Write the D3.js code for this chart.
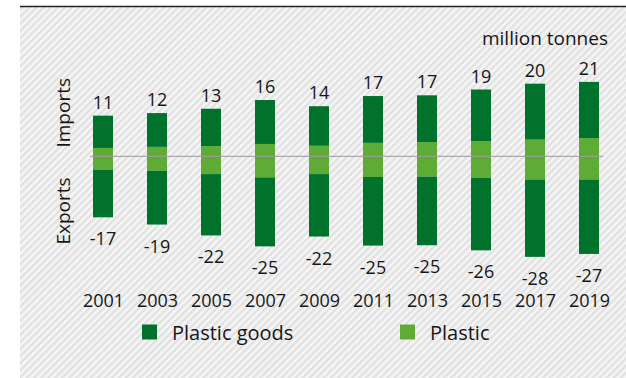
<html>
<head>
<style>
  body { margin: 0; background: #ffffff; }
  svg { display: block; }
  text { font-family: "Open Sans", "Noto Sans", sans-serif; fill: #161616; }
</style>
</head>
<body>
<script src="https://d3js.org/d3.v7.min.js"></script>
<script>
  // values in million tonnes
  const years = ["2001", "2003", "2005", "2007", "2009", "2011", "2013", "2015", "2017", "2019"];
  const goodsImports = [8.9, 9.3, 10.3, 12.1, 10.9, 12.9, 12.9, 14.2, 15.4, 15.5];
  const plasticImports = [2.3, 2.6, 2.8, 3.4, 2.9, 3.7, 3.9, 4.2, 4.6, 5.0];
  const plasticExports = [3.7, 4.0, 4.9, 5.8, 4.9, 5.7, 5.6, 5.9, 6.4, 6.4];
  const goodsExports = [13.1, 14.8, 16.9, 19.0, 17.2, 18.9, 18.9, 20.0, 21.3, 20.5];
  const importLabels = ["11", "12", "13", "16", "14", "17", "17", "19", "20", "21"];
  const exportLabels = ["-17", "-19", "-22", "-25", "-22", "-25", "-25", "-26", "-28", "-27"];
  const legendItems = ["Plastic goods", "Plastic"];

  const width = 626, height = 378;
  const darkGreen = "#00722b", lightGreen = "#5eab36";

  const svg = d3.select("body").append("svg")
      .attr("width", width)
      .attr("height", height);

  // hatched background
  const defs = svg.append("defs");
  const pat = defs.append("pattern")
      .attr("id", "hatch")
      .attr("patternUnits", "userSpaceOnUse")
      .attr("width", 5)
      .attr("height", 5)
      .attr("patternTransform", "rotate(45)");
  pat.append("rect").attr("width", 5).attr("height", 5).attr("fill", "#f5f5f5");
  pat.append("rect").attr("width", 2.4).attr("height", 5).attr("fill", "#e1e1e1");

  svg.append("rect")
      .attr("x", 20).attr("y", 7)
      .attr("width", width - 20).attr("height", height - 7)
      .attr("fill", "url(#hatch)");

  svg.append("line")
      .attr("x1", 20).attr("x2", width)
      .attr("y1", 6.5).attr("y2", 6.5)
      .attr("stroke", "#222").attr("stroke-width", 1.6);

  // scales
  const x = d3.scalePoint().domain(years).range([103, 589]);
  const y = d3.scaleLinear().domain([-30, 25]).range([265.2, 65.55]);
  const barW = 20;

  const rows = years.map((yr, i) => ({
    year: yr,
    gi: goodsImports[i], pi: plasticImports[i],
    pe: plasticExports[i], ge: goodsExports[i],
    imp: importLabels[i], exp: exportLabels[i]
  }));

  // stacked segments around zero
  const segs = [];
  rows.forEach(d => {
    segs.push({ year: d.year, y0: 0, y1: d.pi, c: lightGreen });
    segs.push({ year: d.year, y0: d.pi, y1: d.pi + d.gi, c: darkGreen });
    segs.push({ year: d.year, y0: -d.pe, y1: 0, c: lightGreen });
    segs.push({ year: d.year, y0: -d.pe - d.ge, y1: -d.pe, c: darkGreen });
  });

  svg.append("g").selectAll("rect")
    .data(segs)
    .join("rect")
      .attr("x", d => x(d.year) - barW / 2)
      .attr("width", barW)
      .attr("y", d => y(d.y1))
      .attr("height", d => y(d.y0) - y(d.y1))
      .attr("fill", d => d.c);

  // zero line
  svg.append("line")
      .attr("x1", 90).attr("x2", 603)
      .attr("y1", y(0)).attr("y2", y(0))
      .attr("stroke", "#9a9a9a").attr("stroke-width", 1);

  // value labels
  svg.append("g").selectAll("text")
    .data(rows)
    .join("text")
      .attr("x", d => x(d.year))
      .attr("y", d => y(d.pi + d.gi) - 7)
      .attr("text-anchor", "middle")
      .attr("font-size", 18)
      .text(d => d.imp);

  svg.append("g").selectAll("text")
    .data(rows)
    .join("text")
      .attr("x", d => x(d.year))
      .attr("y", d => y(-d.pe - d.ge) + 28)
      .attr("text-anchor", "middle")
      .attr("font-size", 18)
      .text(d => d.exp);

  // year axis
  const xAxis = d3.axisBottom(x).tickSize(0).tickPadding(0);
  const gx = svg.append("g")
      .attr("transform", "translate(0,294.5)")
      .call(xAxis);
  gx.select(".domain").remove();
  gx.selectAll("text")
      .attr("font-size", 18)
      .attr("font-family", "\"Open Sans\", \"Noto Sans\", sans-serif")
      .attr("fill", "#161616");

  // unit
  svg.append("text")
      .attr("x", 608).attr("y", 45)
      .attr("text-anchor", "end")
      .attr("font-size", 19)
      .text("million tonnes");

  // side titles
  svg.append("text")
      .attr("transform", "translate(69.5,112.8) rotate(-90)")
      .attr("text-anchor", "middle")
      .attr("font-size", 19)
      .text("Imports");
  svg.append("text")
      .attr("transform", "translate(69.5,211) rotate(-90)")
      .attr("text-anchor", "middle")
      .attr("font-size", 19)
      .text("Exports");

  // legend
  const legendX = [142, 400];
  const legendColors = [darkGreen, lightGreen];
  const lg = svg.append("g").selectAll("g")
    .data(legendItems)
    .join("g")
      .attr("transform", (d, i) => `translate(${legendX[i]},324.5)`);
  lg.append("rect")
      .attr("width", 15).attr("height", 15)
      .attr("fill", (d, i) => legendColors[i]);
  lg.append("text")
      .attr("x", 30).attr("y", 15.5)
      .attr("font-size", 20)
      .text(d => d);
</script>
</body>
</html>
